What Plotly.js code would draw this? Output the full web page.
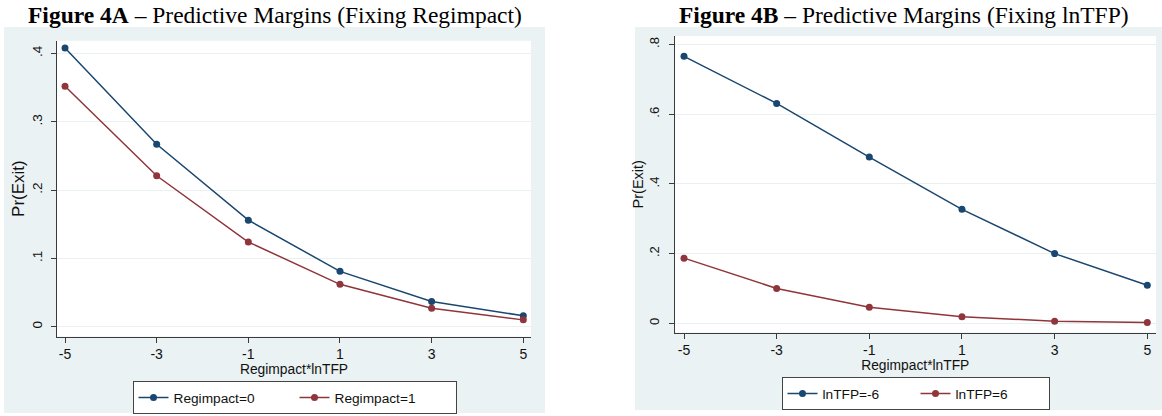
<!DOCTYPE html>
<html><head><meta charset="utf-8">
<script src="https://cdn.plot.ly/plotly-3.0.1.min.js"></script>
<style>html,body{margin:0;padding:0;background:#fff;overflow:hidden;} #chart{width:1162px;height:416px;}</style>
</head><body><div id="chart"></div>
<script>
// ---- data ----
const xValues = [-5, -3, -1, 1, 3, 5];
const xTickLabels = ['-5', '-3', '-1', '1', '3', '5'];
const regimpact0 = [0.408, 0.267, 0.156, 0.081, 0.037, 0.016];
const regimpact1 = [0.352, 0.221, 0.124, 0.062, 0.027, 0.010];
const lnTFPneg6 = [0.766, 0.631, 0.477, 0.327, 0.200, 0.109];
const lnTFPpos6 = [0.187, 0.100, 0.046, 0.019, 0.006, 0.002];
const yTicksA = [0, 0.1, 0.2, 0.3, 0.4];
const yTickLabelsA = ['0', '.1', '.2', '.3', '.4'];
const yTicksB = [0, 0.2, 0.4, 0.6, 0.8];
const yTickLabelsB = ['0', '.2', '.4', '.6', '.8'];
const seriesNamesA = ['Regimpact=0', 'Regimpact=1'];
const seriesNamesB = ['lnTFP=-6', 'lnTFP=6'];
const titleA = '<b>Figure 4A</b> – Predictive Margins (Fixing Regimpact)';
const titleB = '<b>Figure 4B</b> – Predictive Margins (Fixing lnTFP)';
const xTitle = 'Regimpact*lnTFP';
const yTitle = 'Pr(Exit)';

// ---- geometry helpers ----
const W = 1162, H = 416;
const fx = p => p / W;
const fy = p => 1 - p / H;

const NAVY = '#1a476f', MAROON = '#90353b';
const BG = '#eaf2f3', GRID = '#e8f0f1', AX = '#3a3a3a';
const SANS = 'Liberation Sans, Arial, sans-serif';
const SERIF = 'Liberation Serif, Times New Roman, serif';

function line(x, y, name, color, xa, ya, lg) {
  return {x: x, y: y, name: name, type: 'scatter', mode: 'lines+markers',
    xaxis: xa, yaxis: ya, legend: lg,
    line: {color: color, width: 1.5},
    marker: {color: color, size: 7, symbol: 'circle'}};
}

const data = [
  line(xValues, regimpact0, seriesNamesA[0], NAVY, 'x', 'y', 'legend'),
  line(xValues, regimpact1, seriesNamesA[1], MAROON, 'x', 'y', 'legend'),
  line(xValues, lnTFPneg6, seriesNamesB[0], NAVY, 'x2', 'y2', 'legend2'),
  line(xValues, lnTFPpos6, seriesNamesB[1], MAROON, 'x2', 'y2', 'legend2')
];

function xaxis(domain, range, anchor) {
  return {domain: domain, range: range, anchor: anchor, automargin: false,
    tickmode: 'array', tickvals: xValues, ticktext: xTickLabels,
    ticks: 'outside', ticklen: 5, tickcolor: AX, tickwidth: 1,
    showline: true, linecolor: AX, linewidth: 1, showgrid: false, zeroline: false,
    tickfont: {family: SANS, size: 14, color: '#111'},
    title: {text: xTitle, font: {family: SANS, size: 13.8, color: '#111'}, standoff: 1},
    fixedrange: true};
}
function yaxis(domain, range, anchor, tv, tt, tsize, ttsize) {
  return {domain: domain, range: range, anchor: anchor, automargin: false,
    tickmode: 'array', tickvals: tv, ticktext: tt, tickangle: -90,
    ticks: 'outside', ticklen: 5, tickcolor: AX, tickwidth: 1, ticklabelstandoff: 4,
    showline: true, linecolor: AX, linewidth: 1,
    showgrid: true, gridcolor: GRID, gridwidth: 1, zeroline: false,
    tickfont: {family: SANS, size: tsize, color: '#111'},
    title: {text: yTitle, font: {family: SANS, size: ttsize, color: '#111'}, standoff: 0},
    fixedrange: true};
}

const legendBase = {orientation: 'h', xanchor: 'center', yanchor: 'top',
  bgcolor: '#ffffff', bordercolor: '#444', borderwidth: 1,
  font: {family: SANS, size: 13.7, color: '#111'}, traceorder: 'normal',
  itemclick: false, itemdoubleclick: false};

const layout = {
  width: W, height: H,
  margin: {l: 0, r: 0, t: 0, b: 0, pad: 0},
  paper_bgcolor: '#ffffff', plot_bgcolor: 'rgba(0,0,0,0)',
  showlegend: true,
  xaxis: xaxis([fx(57), fx(531)], [-5.175, 5.168], 'y'),
  yaxis: yaxis([fy(336.5), fy(40.7)], [-0.01435, 0.4187], 'x', yTicksA, yTickLabelsA, 13.5, 17),
  xaxis2: xaxis([fx(674.5), fx(1156)], [-5.205, 5.188], 'y2'),
  yaxis2: yaxis([fy(332.5), fy(36)], [-0.0264, 0.8244], 'x2', yTicksB, yTickLabelsB, 13, 14.5),
  legend: Object.assign({}, legendBase, {x: fx(294.5), y: fy(381), entrywidth: 116}),
  legend2: Object.assign({}, legendBase, {x: fx(915.5), y: fy(377), entrywidth: 88}),
  shapes: [
    {type: 'rect', xref: 'paper', yref: 'paper', layer: 'below', x0: fx(4), x1: fx(545), y0: fy(413), y1: fy(27), fillcolor: BG, line: {width: 0}},
    {type: 'rect', xref: 'paper', yref: 'paper', layer: 'below', x0: fx(635), x1: fx(1162), y0: fy(410), y1: fy(27), fillcolor: BG, line: {width: 0}},
    {type: 'rect', xref: 'paper', yref: 'paper', layer: 'below', x0: fx(57), x1: fx(531), y0: fy(336.5), y1: fy(40.7), fillcolor: '#ffffff', line: {width: 0}},
    {type: 'rect', xref: 'paper', yref: 'paper', layer: 'below', x0: fx(674.5), x1: fx(1156), y0: fy(332.5), y1: fy(36), fillcolor: '#ffffff', line: {width: 0}}
  ],
  annotations: [
    {text: titleA, xref: 'paper', yref: 'paper', x: fx(275), y: fy(15), xanchor: 'center', yanchor: 'middle', showarrow: false, font: {family: SERIF, size: 23.5, color: '#000'}},
    {text: titleB, xref: 'paper', yref: 'paper', x: fx(904), y: fy(15), xanchor: 'center', yanchor: 'middle', showarrow: false, font: {family: SERIF, size: 23.5, color: '#000'}}
  ]
};

Plotly.newPlot('chart', data, layout, {displayModeBar: false, staticPlot: true});
</script></body></html>
